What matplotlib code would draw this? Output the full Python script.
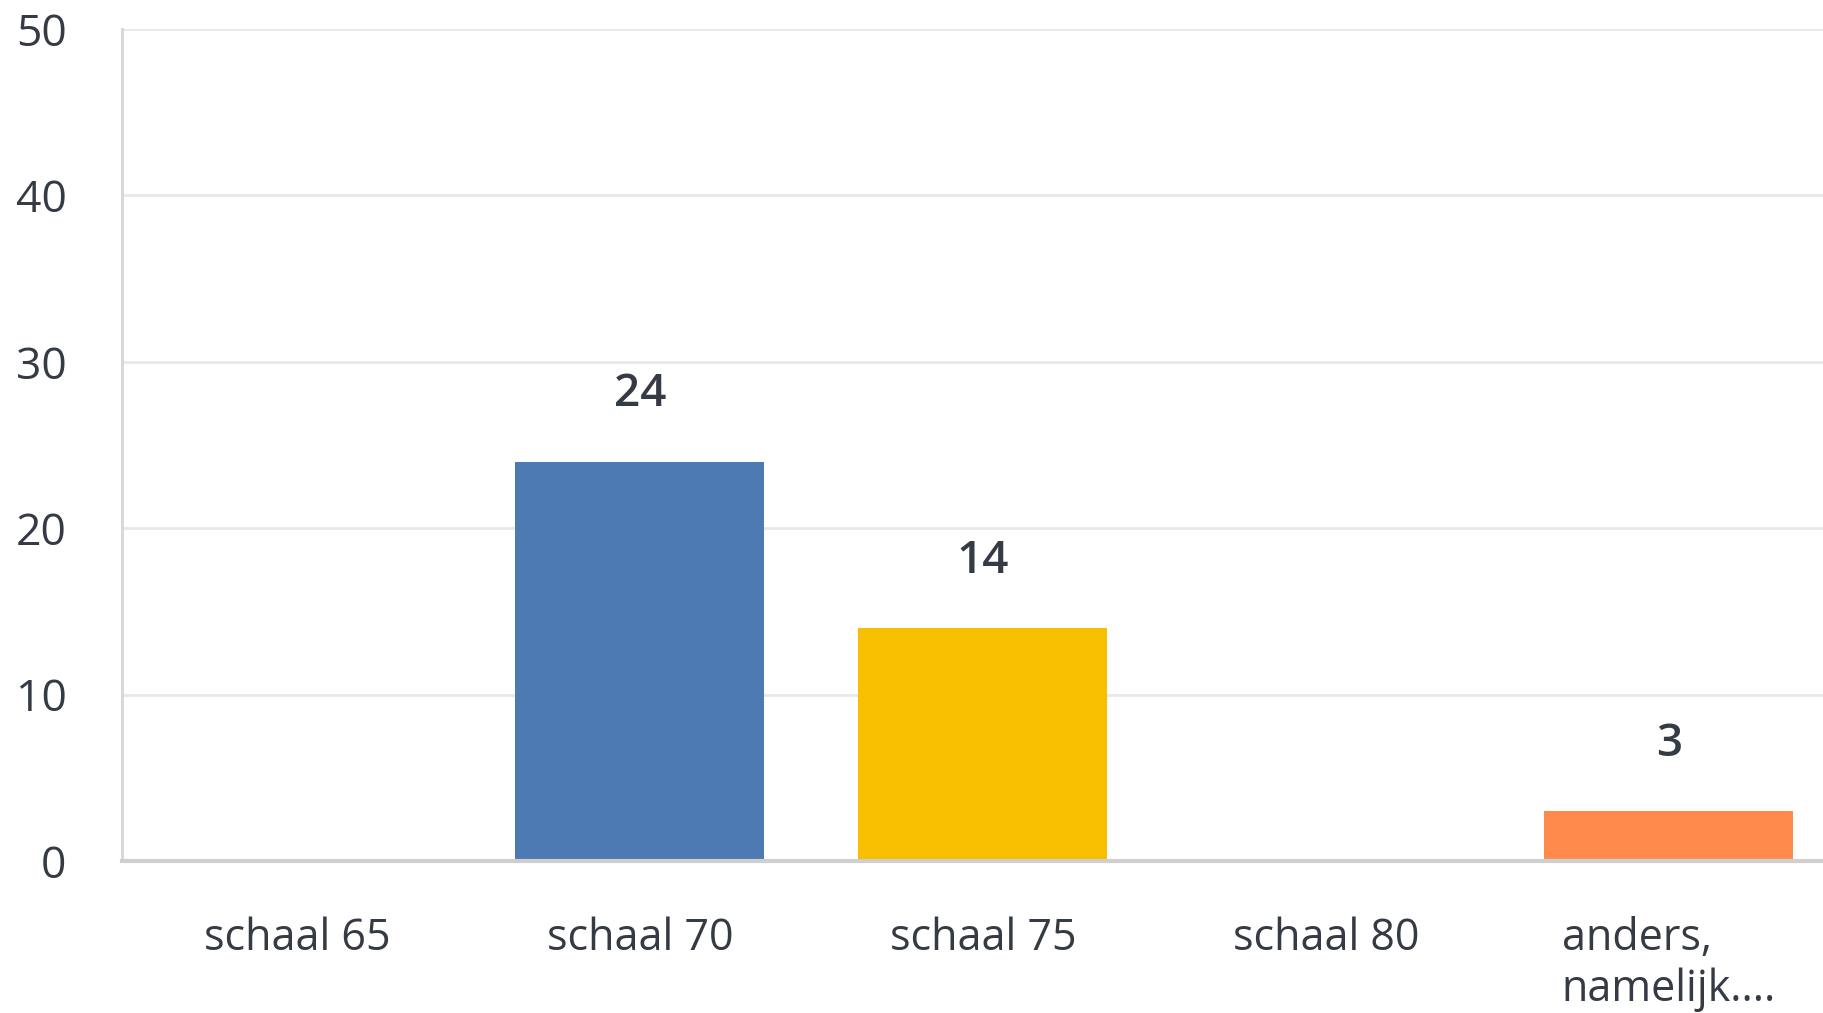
import matplotlib
matplotlib.use("Agg")
import matplotlib.pyplot as plt

categories = ["schaal 65", "schaal 70", "schaal 75", "schaal 80", "anders,\nnamelijk...."]
values = [0, 24, 14, 0, 3]
colors = ["#4E7AB3", "#4E7AB3", "#F8BE00", "#4E7AB3", "#FF8A4C"]
yticks = [0, 10, 20, 30, 40, 50]

text_color = "#353b45"
plt.rcParams['font.family'] = ['Open Sans', 'DejaVu Sans']

fig = plt.figure(figsize=(18.24, 10.13), dpi=100)
ax = fig.add_axes([122/1824, 152/1013, 1 - 122/1824, (861-29)/1013])

x = list(range(len(categories)))
ax.bar(x, values, width=0.726, color=colors, zorder=3)
for xi, v in zip(x, values):
    if v > 0:
        ax.annotate(str(v), (xi, v), xytext=(0, 48), textcoords="offset points",
                    ha="center", va="center", fontsize=33, fontweight="semibold",
                    color=text_color)

ax.set_ylim(0, 50)
ax.set_xlim(-0.51, 4.452)
ax.set_yticks(yticks)
ax.set_xticks(x)
ax.set_xticklabels(categories, multialignment="left", linespacing=1.2)
ax.grid(axis="y", color="#e8e8e8", linewidth=2, zorder=0)
ax.tick_params(axis="y", length=0, pad=40, labelsize=32, labelcolor=text_color)
ax.tick_params(axis="x", length=0, pad=40, labelsize=31, labelcolor=text_color)
for lbl in ax.get_xticklabels():
    lbl.set_verticalalignment("top")

for s in ["top", "right"]:
    ax.spines[s].set_visible(False)
ax.spines["left"].set_color("#d6d6d6")
ax.spines["left"].set_linewidth(2)
ax.spines["bottom"].set_color("#cfcfcf")
ax.spines["bottom"].set_linewidth(3)
ax.spines["bottom"].set_zorder(4)

fig.savefig("out.png", dpi=100, facecolor="white")
